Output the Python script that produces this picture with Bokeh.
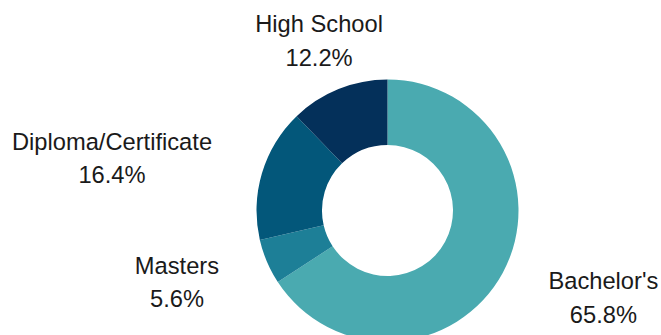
import math
from bokeh.plotting import figure
from bokeh.models import Range1d, ColumnDataSource
from bokeh.embed import file_html
from bokeh.resources import INLINE
from bokeh.core.properties import value

# Data (clockwise from 12 o'clock)
categories = ["Bachelor's", "Masters", "Diploma/Certificate", "High School"]
percents = [65.8, 5.6, 16.4, 12.2]
colors = ["#4aaab0", "#1d7f97", "#03577a", "#04305a"]

W, H = 661, 335
CX, CY = 387, 210          # donut centre in pixels (from top-left)
R_OUT, R_IN = 131, 65.5
R_LAB = 183
FONT = "Liberation Sans"
FS = 23.7

# Liberation Sans / Arial advance widths (per 1000 em) for label layout
ADV = {"B": 667, "C": 722, "D": 722, "H": 722, "M": 833, "S": 667,
       "a": 556, "c": 500, "e": 556, "f": 278, "g": 556, "h": 556, "i": 222,
       "l": 222, "m": 833, "o": 556, "p": 556, "r": 333, "s": 500, "t": 278,
       "'": 191, "/": 278, " ": 278, ".": 278, "%": 889}


def text_width(s):
    return sum(ADV.get(ch, 556) for ch in s) * FS / 1000.0


total = sum(percents)
starts, ends, bx, by, names, pcts = [], [], [], [], [], []
cum = 0.0
for cat, pv in zip(categories, percents):
    a0 = cum / total * 2 * math.pi
    cum += pv
    a1 = cum / total * 2 * math.pi
    starts.append(math.pi / 2 - a0)
    ends.append(math.pi / 2 - a1)
    mid = (a0 + a1) / 2
    dx, dy = math.sin(mid), math.cos(mid)
    ax, ay = R_LAB * dx, R_LAB * dy
    label = f"{pv:.1f}%"
    bw = max(text_width(cat), text_width(label))
    if abs(dx) < 0.5:
        cxb = ax
    elif dx < 0:
        cxb = ax - bw / 2
    else:
        cxb = ax + bw / 2
    bx.append(cxb)
    by.append(ay)
    names.append(cat)
    pcts.append(label)

p = figure(width=W, height=H, output_backend="svg", toolbar_location=None,
           x_range=Range1d(-CX, W - CX), y_range=Range1d(-(H - CY), CY),
           min_border=0, min_border_left=0, min_border_right=0,
           min_border_top=0, min_border_bottom=0)
p.axis.visible = False
p.grid.visible = False
p.outline_line_color = None
p.background_fill_color = "white"
p.border_fill_color = "white"

src = ColumnDataSource(dict(start=starts, end=ends, color=colors))
p.annular_wedge(x=0, y=0, inner_radius=R_IN, outer_radius=R_OUT,
                start_angle="start", end_angle="end", direction="clock",
                fill_color="color", line_color=None, source=src)

ts = ColumnDataSource(dict(x=bx, y=by, name=names, pct=pcts))
p.text(x="x", y="y", text="name", source=ts, text_align="center",
       text_baseline="alphabetic", y_offset=-16.5,
       text_font=value(FONT), text_font_size=f"{FS}px", text_color="#1a1a1a")
p.text(x="x", y="y", text="pct", source=ts, text_align="center",
       text_baseline="alphabetic", y_offset=17,
       text_font=value(FONT), text_font_size=f"{FS}px", text_color="#1a1a1a")

open("out.html", "w").write(file_html(p, INLINE))
